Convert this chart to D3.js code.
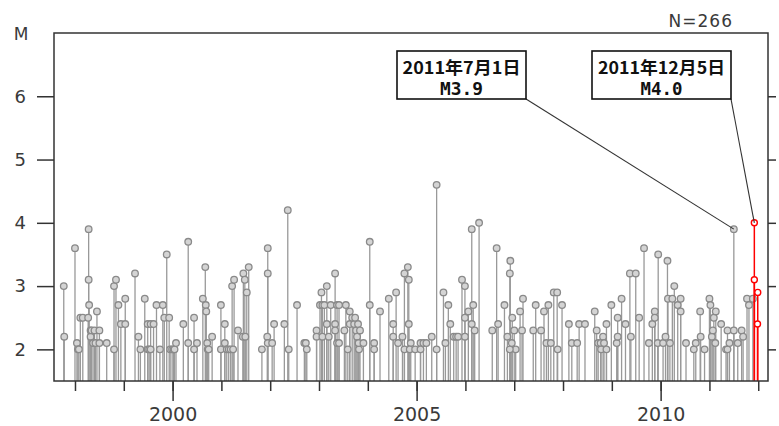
<!DOCTYPE html>
<html lang="ja">
<head>
<meta charset="UTF-8">
<script src="https://cdn.jsdelivr.net/npm/d3@7"></script>
<title>M-T</title>
<style>
  body { margin: 0; background: #fff; }
  text { font-family: "DejaVu Sans", sans-serif; }
</style>
</head>
<body>
<div id="canvas"></div>
<script>
// event times (decimal year) and magnitudes
const eventYear = [
  1997.77,1997.78,1998.00,1998.04,1998.06,1998.08,1998.11,1998.16,1998.28,1998.28,1998.29,1998.27,
  1998.32,1998.32,1998.34,1998.37,1998.40,1998.42,1998.45,1998.50,1998.50,1998.65,1998.80,1998.80,
  1998.84,1998.89,1998.94,1999.03,1999.03,1999.23,1999.30,1999.34,1999.43,1999.49,1999.49,1999.52,
  1999.55,1999.55,1999.61,1999.67,1999.74,1999.80,1999.83,1999.88,1999.93,1999.95,1999.99,2000.02,
  2000.04,2000.07,2000.22,2000.32,2000.32,2000.44,2000.44,2000.50,2000.62,2000.67,2000.68,2000.69,
  2000.71,2000.72,2000.74,2000.81,2000.99,2000.99,2001.07,2001.07,2001.11,2001.15,2001.19,2001.22,
  2001.24,2001.26,2001.34,2001.45,2001.44,2001.48,2001.49,2001.52,2001.56,2001.83,2001.95,2001.95,
  2001.94,2001.95,2002.04,2002.08,2002.29,2002.36,2002.38,2002.55,2002.70,2002.73,2002.75,2002.95,
  2002.95,2003.02,2003.05,2003.07,2003.07,2003.11,2003.16,2003.16,2003.20,2003.24,2003.33,2003.33,
  2003.33,2003.37,2003.37,2003.41,2003.41,2003.52,2003.55,2003.59,2003.63,2003.63,2003.68,2003.72,
  2003.74,2003.76,2003.78,2003.80,2003.82,2003.84,2003.81,2003.91,2004.04,2004.04,2004.13,2004.13,
  2004.25,2004.43,2004.52,2004.52,2004.58,2004.62,2004.71,2004.75,2004.75,2004.82,2004.84,2004.84,
  2004.88,2004.86,2004.97,2005.08,2005.08,2005.14,2005.20,2005.31,2005.41,2005.41,2005.55,2005.59,
  2005.65,2005.69,2005.76,2005.81,2005.85,2005.93,2005.99,2005.99,2005.99,2006.06,2006.13,2006.13,
  2006.16,2006.19,2006.28,2006.55,2006.64,2006.67,2006.80,2006.86,2006.91,2006.92,2006.96,2007.00,
  2007.03,2006.91,2006.95,2007.12,2007.18,2007.16,2007.39,2007.44,2007.55,2007.61,2007.66,2007.70,
  2007.75,2007.81,2007.88,2007.89,2007.98,2008.12,2008.18,2008.29,2008.33,2008.45,2008.65,2008.69,
  2008.72,2008.77,2008.82,2008.78,2008.84,2008.89,2008.89,2008.99,2009.10,2009.12,2009.12,2009.20,
  2009.28,2009.37,2009.39,2009.49,2009.56,2009.66,2009.76,2009.83,2009.88,2009.88,2009.94,2009.95,
  2010.05,2010.10,2010.14,2010.15,2010.19,2010.24,2010.28,2010.35,2010.41,2010.41,2010.52,2010.68,
  2010.72,2010.81,2010.82,2010.90,2011.00,2011.02,2011.05,2011.07,2011.09,2011.13,2011.12,2011.24,
  2011.34,2011.37,2011.37,2011.41,2011.50,2011.50,2011.58,2011.66,2011.69,2011.77,2011.81,2011.89
]
const eventMag = [
  3.0,2.2,3.6,2.1,2.0,2.0,2.5,2.5,3.9,3.1,2.7,2.5,
  2.3,2.2,2.3,2.1,2.3,2.1,2.6,2.3,2.1,2.1,3.0,2.0,
  3.1,2.7,2.4,2.8,2.4,3.2,2.2,2.0,2.8,2.4,2.0,2.0,
  2.4,2.0,2.4,2.7,2.0,2.7,2.5,3.5,2.5,2.0,2.0,2.0,
  2.0,2.1,2.4,3.7,2.1,2.5,2.0,2.1,2.8,3.3,2.7,2.6,
  2.1,2.0,2.0,2.2,2.7,2.0,2.4,2.1,2.0,2.0,2.0,3.0,
  2.0,3.1,2.3,3.2,2.2,3.1,2.2,2.9,3.3,2.0,3.6,3.2,
  2.2,2.1,2.1,2.4,2.4,4.2,2.0,2.7,2.1,2.1,2.0,2.3,
  2.2,2.7,2.9,2.7,2.2,2.7,3.0,2.4,2.2,2.7,3.2,2.4,
  2.3,2.7,2.1,2.1,2.7,2.3,2.7,2.0,2.6,2.4,2.5,2.4,
  2.5,2.3,2.2,2.4,2.0,2.3,2.1,2.1,3.7,2.7,2.1,2.0,
  2.6,2.8,2.4,2.2,2.9,2.1,2.2,3.2,2.0,3.3,3.1,2.4,
  2.1,2.0,2.0,2.1,2.0,2.1,2.1,2.2,4.6,2.0,2.9,2.1,
  2.7,2.4,2.2,2.2,2.2,3.1,3.0,2.5,2.2,2.6,3.9,2.4,
  2.7,2.3,4.0,2.3,3.6,2.4,2.7,2.2,3.2,3.4,2.5,2.3,
  2.0,2.0,2.1,2.6,2.8,2.3,2.3,2.7,2.3,2.6,2.1,2.7,
  2.1,2.9,2.9,2.0,2.7,2.4,2.1,2.1,2.4,2.4,2.6,2.3,
  2.1,2.1,2.2,2.0,2.1,2.0,2.4,2.7,2.1,2.5,2.2,2.8,
  2.4,3.2,2.2,3.2,2.5,3.6,2.1,2.4,2.6,2.5,2.1,3.5,
  2.1,2.2,3.4,2.8,2.1,2.8,3.0,2.7,2.8,2.6,2.1,2.0,
  2.1,2.6,2.2,2.0,2.8,2.7,2.2,2.3,2.5,2.6,2.1,2.4,
  2.0,2.0,2.3,2.1,3.9,2.3,2.1,2.3,2.2,2.8,2.7,2.8
]
// latest events (drawn in red)
const recentYear = [2011.92, 2011.92, 2011.985, 2011.99]
const recentMag = [4.0, 3.1, 2.4, 2.9]

// labelled events
const noteDate = ["2011年7月1日", "2011年12月5日"]
const noteMag = ["M3.9", "M4.0"]
const noteYear = [2011.50, 2011.92]
const noteValue = [3.9, 4.0]

const yearTicks = d3.range(1998, 2013)
const yearLabels = [2000, 2005, 2010]
const magTicks = [2, 3, 4, 5, 6]
const countLabel = "N=266"

const W = 779, H = 426
const margin = {top: 33, right: 11, bottom: 45, left: 54}
const plotW = W - margin.left - margin.right
const plotH = H - margin.top - margin.bottom

const svg = d3.select("#canvas").append("svg").attr("width", W).attr("height", H)
svg.append("rect").attr("width", W).attr("height", H).attr("fill", "#fff")

const x = d3.scaleLinear().domain([1997.57, 2012.2]).range([margin.left, margin.left + plotW])
const y = d3.scaleLinear().domain([1.5, 7]).range([margin.top + plotH, margin.top])
const base = margin.top + plotH

const events = eventYear.map((t, i) => ({t: t, m: eventMag[i]}))
const recent = recentYear.map((t, i) => ({t: t, m: recentMag[i]}))

// gray stems + heads
const g = svg.append("g")
g.selectAll(".stem").data(events).enter().append("line")
  .attr("x1", d => x(d.t)).attr("x2", d => x(d.t))
  .attr("y1", base).attr("y2", d => y(d.m))
  .attr("stroke", "#999").attr("stroke-width", 1.3)
g.selectAll(".head").data(events).enter().append("circle")
  .attr("cx", d => x(d.t)).attr("cy", d => y(d.m)).attr("r", 3.3)
  .attr("fill", "#d4d4d4").attr("stroke", "#8a8a8a").attr("stroke-width", 1.3)

// red ones
const gr = svg.append("g")
gr.selectAll("line").data(recent).enter().append("line")
  .attr("x1", d => x(d.t)).attr("x2", d => x(d.t))
  .attr("y1", base).attr("y2", d => y(d.m))
  .attr("stroke", "#ff0000").attr("stroke-width", 1.5)
gr.selectAll("circle").data(recent).enter().append("circle")
  .attr("cx", d => x(d.t)).attr("cy", d => y(d.m)).attr("r", 3)
  .attr("fill", "#fff").attr("stroke", "#ff0000").attr("stroke-width", 1.4)

// axes
const minorX = svg.append("g").attr("transform", `translate(0,${base})`)
  .call(d3.axisBottom(x).tickValues(yearTicks).tickSize(10).tickFormat(""))
const majorX = svg.append("g").attr("transform", `translate(0,${base})`)
  .call(d3.axisBottom(x).tickValues(yearLabels).tickSize(20).tickPadding(7).tickFormat(d3.format("d")))
const leftY = svg.append("g").attr("transform", `translate(${margin.left},0)`)
  .call(d3.axisLeft(y).tickValues(magTicks).tickSize(17).tickPadding(11).tickFormat(d3.format("d")))
const rightY = svg.append("g").attr("transform", `translate(${margin.left + plotW},0)`)
  .call(d3.axisRight(y).tickValues(magTicks).tickSize(8).tickFormat(""))

;[minorX, majorX, leftY, rightY].forEach(a => {
  a.select(".domain").remove()
  a.selectAll("line").attr("stroke", "#333").attr("stroke-width", 1.5)
  a.selectAll("text").attr("fill", "#3a3a3a").style("font-family", "DejaVu Sans")
})
majorX.selectAll("text").style("font-size", "19px")
leftY.selectAll("text").style("font-size", "18px")

// frame
svg.append("rect")
  .attr("x", margin.left).attr("y", margin.top)
  .attr("width", plotW).attr("height", plotH)
  .attr("fill", "none").attr("stroke", "#333").attr("stroke-width", 1.5)

svg.append("text").attr("x", 21).attr("y", 40).attr("text-anchor", "middle")
  .style("font-size", "17px").attr("fill", "#3a3a3a").text("M")
svg.append("text").attr("x", 733).attr("y", 27).attr("text-anchor", "end")
  .style("font-size", "17px").style("letter-spacing", "1px").attr("fill", "#3a3a3a").text(countLabel)

// annotation boxes
const boxes = [
  {x: 397, y: 51, w: 129, h: 48, w1: 118, w2: 43},
  {x: 592, y: 51, w: 139, h: 48, w1: 127, w2: 42}
]
boxes.forEach((b, i) => {
  svg.append("line")
    .attr("x1", b.x + b.w).attr("y1", b.y + b.h)
    .attr("x2", x(noteYear[i])).attr("y2", y(noteValue[i]))
    .attr("stroke", "#333").attr("stroke-width", 1.1)
  svg.append("rect").attr("x", b.x).attr("y", b.y).attr("width", b.w).attr("height", b.h)
    .attr("fill", "#fff").attr("stroke", "#111").attr("stroke-width", 1.6)
  const cx = b.x + b.w / 2
  svg.append("text").attr("x", cx).attr("y", b.y + 23).attr("text-anchor", "middle")
    .attr("textLength", b.w1).attr("lengthAdjust", "spacingAndGlyphs")
    .style("font-family", "'Noto Sans CJK JP', sans-serif").style("font-weight", "700")
    .style("font-size", "17px").attr("fill", "#111").text(noteDate[i])
  svg.append("text").attr("x", cx).attr("y", b.y + 44).attr("text-anchor", "middle")
    .attr("textLength", b.w2).attr("lengthAdjust", "spacingAndGlyphs")
    .style("font-family", "'DejaVu Sans Mono', monospace").style("font-weight", "700")
    .style("font-size", "17px").attr("fill", "#111").text(noteMag[i])
})
</script>
</body>
</html>
